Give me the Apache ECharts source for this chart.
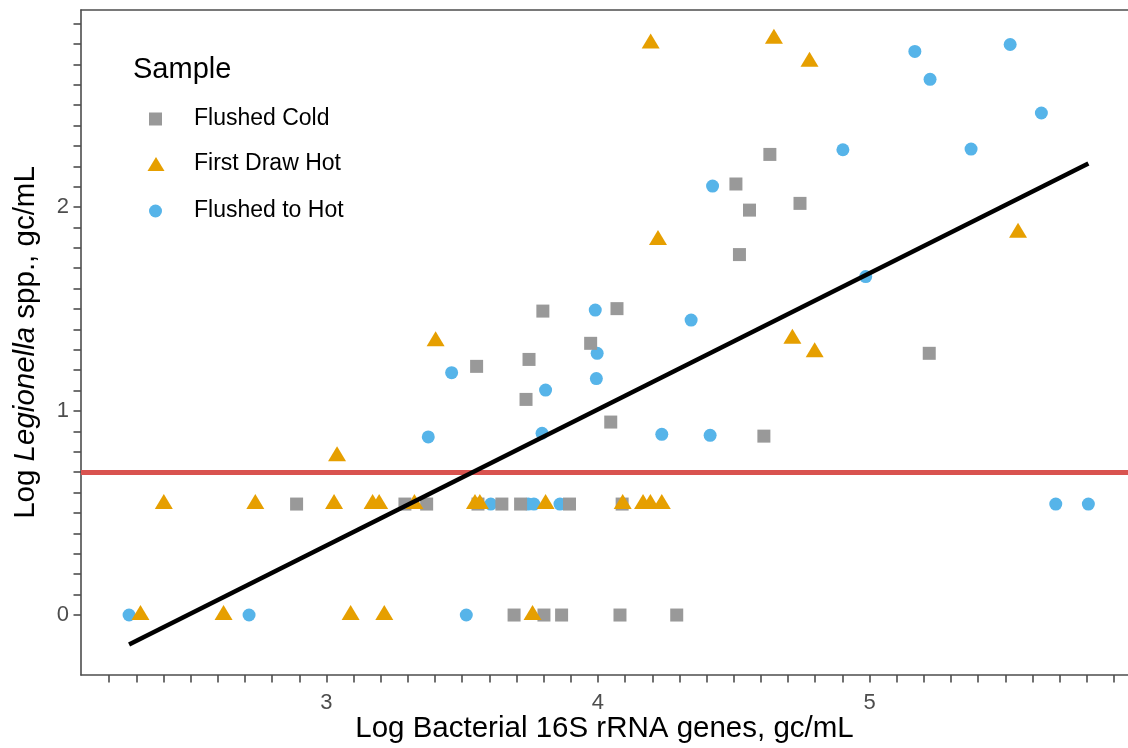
<!DOCTYPE html>
<html><head><meta charset="utf-8">
<script src="https://cdn.jsdelivr.net/npm/echarts@6/dist/echarts.min.js"></script>
<style>html,body{margin:0;padding:0;background:#fff}#c{width:1128px;height:748px}</style>
</head><body><div id="c"></div>
<script>
// ---- data ----
const seriesNames = ['Flushed Cold', 'First Draw Hot', 'Flushed to Hot'];

const flushedColdX = [2.890, 3.289, 3.369, 3.558, 3.646, 3.715, 3.895, 4.089,
  3.691, 3.801, 3.866, 4.081, 4.290,
  3.797, 4.070, 3.973, 3.746, 3.553, 3.735, 4.047, 4.611, 5.220,
  4.633, 4.508, 4.558, 4.744, 4.521];
const flushedColdY = [0.544, 0.544, 0.544, 0.544, 0.544, 0.544, 0.544, 0.544,
  0, 0, 0, 0, 0,
  1.490, 1.502, 1.332, 1.253, 1.219, 1.057, 0.946, 0.877, 1.283,
  2.258, 2.113, 1.985, 2.018, 1.767];

const firstDrawHotX = [2.401, 2.738, 3.028, 3.170, 3.194, 3.324, 3.547, 3.565, 3.807, 4.091, 4.166, 4.193, 4.235,
  2.315, 2.621, 3.089, 3.213, 3.759,
  3.039, 3.402, 4.194, 4.648, 4.779, 4.221, 5.547, 4.716, 4.798];
const firstDrawHotY = [0.544, 0.544, 0.544, 0.544, 0.544, 0.544, 0.544, 0.544, 0.544, 0.544, 0.544, 0.544, 0.544,
  0, 0, 0, 0, 0,
  0.778, 1.342, 2.802, 2.825, 2.712, 1.839, 1.874, 1.354, 1.288];

const flushedToHotX = [2.273, 2.715, 3.515,
  3.605, 3.743, 3.764, 3.860, 5.686, 5.806,
  3.461, 3.375, 3.807, 3.794, 3.990, 3.997, 3.994, 4.343, 4.235, 4.413,
  4.422, 4.902, 5.167, 5.223, 5.518, 5.633, 5.374, 4.986];
const flushedToHotY = [0, 0, 0,
  0.544, 0.544, 0.544, 0.544, 0.544, 0.544,
  1.188, 0.873, 1.103, 0.891, 1.495, 1.283, 1.159, 1.446, 0.886, 0.881,
  2.103, 2.281, 2.763, 2.626, 2.797, 2.461, 2.284, 1.659];

// regression line end points and detection-limit line
const fitX = [2.273, 5.806];
const fitY = [-0.144, 2.214];
const limitY = 0.699;

// ticks and labels
const xTicks = [2.2, 2.3, 2.4, 2.5, 2.6, 2.7, 2.8, 2.9, 3.0, 3.1, 3.2, 3.3, 3.4, 3.5, 3.6, 3.7, 3.8, 3.9,
  4.0, 4.1, 4.2, 4.3, 4.4, 4.5, 4.6, 4.7, 4.8, 4.9, 5.0, 5.1, 5.2, 5.3, 5.4, 5.5, 5.6, 5.7, 5.8, 5.9];
const xLabels = [3, 4, 5];
const yTicks = [0, 0.1, 0.2, 0.3, 0.4, 0.5, 0.6, 0.7, 0.8, 0.9, 1.0, 1.1, 1.2, 1.3, 1.4, 1.5, 1.6, 1.7, 1.8, 1.9,
  2.0, 2.1, 2.2, 2.3, 2.4, 2.5, 2.6, 2.7, 2.8, 2.9];
const yLabels = [0, 1, 2];

const xTitle = 'Log Bacterial 16S rRNA genes, gc/mL';
const yTitle = 'Log {i|Legionella} spp., gc/mL';
const legendTitle = 'Sample';

// ---- chart ----
const zip = (xs, ys) => xs.map((x, i) => [x, ys[i]]);
const FONT = '"Liberation Sans", Arial, sans-serif';
const AX = '#4d4d4d';
const colors = { gray: '#999999', orange: '#E69F00', blue: '#56B4E9' };

const chart = echarts.init(document.getElementById('c'), null, { renderer: 'canvas' });
const legendBase = {
  orient: 'vertical', padding: 0, selectedMode: false,
  textStyle: { fontSize: 23, color: '#000', fontFamily: FONT, padding: [0, 0, 0, 27] }
};
chart.setOption({
  animation: false,
  backgroundColor: '#fff',
  textStyle: { fontFamily: FONT },
  title: {
    text: legendTitle, left: 133, top: 55, padding: 0,
    textStyle: { fontSize: 29, fontWeight: 'normal', color: '#000', fontFamily: FONT }
  },
  legend: [
    Object.assign({}, legendBase, { data: [seriesNames[0]], left: 149, top: 107.5, itemWidth: 13, itemHeight: 13 }),
    Object.assign({}, legendBase, { data: [seriesNames[1]], left: 147.5, top: 152.5, itemWidth: 17, itemHeight: 14, textStyle: Object.assign({}, legendBase.textStyle, { padding: [0, 0, 0, 24.5] }) }),
    Object.assign({}, legendBase, { data: [seriesNames[2]], left: 149, top: 199.5, itemWidth: 13, itemHeight: 13 })
  ],
  grid: { left: 81, right: 0, top: 10, bottom: 73, containLabel: false, outerBoundsMode: 'none' },
  xAxis: [{
    type: 'value', min: 2.096, max: 5.952, position: 'bottom',
    axisLine: { show: true, onZero: false, lineStyle: { color: AX, width: 1.6 } },
    axisTick: { show: true, customValues: xTicks, length: 7.5, lineStyle: { color: AX, width: 1.6 } },
    axisLabel: { customValues: xLabels, margin: 17, fontSize: 22, color: AX, fontFamily: FONT },
    splitLine: { show: false },
    name: xTitle, nameLocation: 'middle', nameGap: 39, nameMoveOverlap: false,
    nameTextStyle: { fontSize: 29.5, color: '#000', fontFamily: FONT }
  }, {
    type: 'value', min: 2.096, max: 5.952, position: 'top',
    axisLine: { show: true, onZero: false, lineStyle: { color: AX, width: 1.6 } },
    axisTick: { show: false }, axisLabel: { show: false }, splitLine: { show: false }
  }],
  yAxis: {
    type: 'value', min: -0.294, max: 2.966,
    axisLine: { show: true, onZero: false, lineStyle: { color: AX, width: 1.6 } },
    axisTick: { show: true, customValues: yTicks, length: 7.5, lineStyle: { color: AX, width: 1.6 } },
    axisLabel: { customValues: yLabels, margin: 12, fontSize: 22, color: AX, fontFamily: FONT },
    splitLine: { show: false },
    name: yTitle, nameLocation: 'middle', nameGap: 40,
    nameTextStyle: { fontSize: 29.5, color: '#000', fontFamily: FONT,
      rich: { i: { fontSize: 29.5, fontStyle: 'italic', color: '#000', fontFamily: FONT } } }
  },
  series: [
    { name: seriesNames[2], type: 'scatter', symbol: 'circle', symbolSize: 13,
      itemStyle: { color: colors.blue, opacity: 1 }, z: 2, data: zip(flushedToHotX, flushedToHotY) },
    { name: seriesNames[0], type: 'scatter', symbol: 'rect', symbolSize: 13,
      itemStyle: { color: colors.gray, opacity: 1 }, z: 3, data: zip(flushedColdX, flushedColdY) },
    { name: seriesNames[1], type: 'scatter', symbol: 'triangle', symbolSize: [18, 15], symbolOffset: [0, -2.5],
      itemStyle: { color: colors.orange, opacity: 1 }, z: 4, data: zip(firstDrawHotX, firstDrawHotY) },
    { name: 'fit', type: 'line', showSymbol: false, symbol: 'none', z: 6,
      lineStyle: { color: '#000', width: 4.5 }, data: zip(fitX, fitY),
      markLine: { silent: true, symbol: 'none', label: { show: false }, z: 5,
        lineStyle: { color: '#D9534F', width: 5, type: 'solid' }, data: [{ yAxis: limitY }] } }
  ]
});
</script></body></html>
